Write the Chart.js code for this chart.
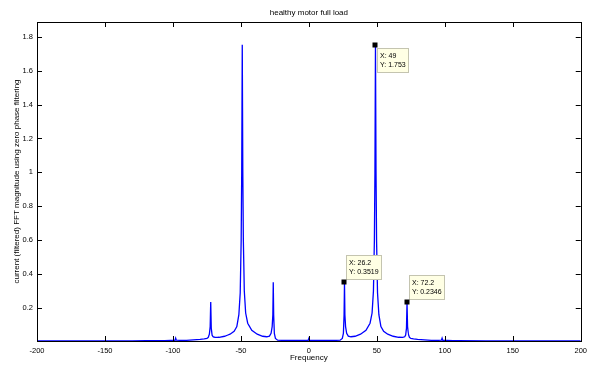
<!DOCTYPE html>
<html>
<head>
<meta charset="utf-8">
<script src="https://cdn.jsdelivr.net/npm/chart.js@4"></script>
<style>
  html, body { margin: 0; padding: 0; background: #fff; }
  #wrap { width: 592px; height: 367px; }
</style>
</head>
<body>
<div id="wrap"><canvas id="fftChart" width="592" height="367"></canvas></div>
<script>
// Spectrum (frequency in Hz, magnitude), one line per region
const freq = [
  -200, -170, -150, -130, -110, -102, -98.5, -98, -97.5, -95, -90, -85, -80, -77, -75,
  -74, -73.2, -72.6, -72.2, -71.8, -71.2, -70.5, -69,
  -66, -62, -58, -55, -53, -51.5, -50.5, -49.8, -49.4, -49, -48.6, -48.2, -47.5, -46.5, -45, -42, -38, -34, -31,
  -29, -27.8, -27, -26.5, -26.2, -25.9, -25.4, -24.6, -23, -18,
  -10, -3, -0.5, 0, 0.5, 3, 10, 18,
  23, 24.6, 25.4, 25.9, 26.2, 26.5, 27, 27.8, 29,
  31, 34, 38, 42, 45, 46.5, 47.5, 48.2, 48.6, 49, 49.4, 49.8, 50.5, 51.5, 53, 55, 58, 62, 66,
  69, 70.5, 71.2, 71.8, 72.2, 72.6, 73.2, 74,
  75, 77, 80, 85, 90, 95, 97.5, 98, 98.5, 102, 110, 130, 150, 170, 200
];
const mag = [
  0.006, 0.006, 0.006, 0.006, 0.007, 0.008, 0.009, 0.022, 0.01, 0.009, 0.009, 0.012, 0.015, 0.018, 0.021,
  0.026, 0.045, 0.09, 0.235, 0.08, 0.04, 0.03, 0.026,
  0.027, 0.033, 0.045, 0.062, 0.09, 0.16, 0.29, 0.6, 1.0, 1.753, 1.0, 0.6, 0.3, 0.17, 0.11, 0.068, 0.045, 0.033, 0.03,
  0.034, 0.05, 0.09, 0.16, 0.352, 0.16, 0.05, 0.02, 0.01, 0.008,
  0.008, 0.008, 0.009, 0.02, 0.009, 0.008, 0.008, 0.008,
  0.01, 0.02, 0.05, 0.16, 0.3519, 0.16, 0.09, 0.05, 0.034,
  0.03, 0.033, 0.045, 0.068, 0.11, 0.17, 0.3, 0.6, 1.0, 1.753, 1.0, 0.6, 0.29, 0.16, 0.09, 0.062, 0.045, 0.033, 0.027,
  0.026, 0.03, 0.04, 0.08, 0.2346, 0.09, 0.045, 0.026,
  0.021, 0.018, 0.015, 0.012, 0.009, 0.009, 0.01, 0.022, 0.009, 0.008, 0.007, 0.006, 0.006, 0.006, 0.006
];

const xTickVals = [-200, -150, -100, -50, 0, 50, 100, 150, 200];
const yTickVals = [0.2, 0.4, 0.6, 0.8, 1, 1.2, 1.4, 1.6, 1.8];

// Data tips shown on the figure
const tipX = [49, 26.2, 72.2];
const tipY = [1.753, 0.3519, 0.2346];
const tipLabelX = ['49', '26.2', '72.2'];
const tipLabelY = ['1.753', '0.3519', '0.2346'];

const titleText = 'healthy motor full load';
const xTitle = 'Frequency';
const yTitle = 'current (filtered) FFT magnitude using zero phase filtering';

const FONT = '"Liberation Sans", Arial, sans-serif';

// MATLAB-like frame: box, inward ticks, titles and data tips
const matlabFrame = {
  id: 'matlabFrame',
  afterDatasetsDraw(chart) {
    const { ctx, chartArea: a, scales } = chart;
    const xs = scales.x, ys = scales.y;
    ctx.save();

    // box
    ctx.strokeStyle = '#000';
    ctx.lineWidth = 1;
    ctx.strokeRect(Math.round(a.left) + 0.5, Math.round(a.top) + 0.5,
      Math.round(a.right - a.left), Math.round(a.bottom - a.top));

    // inward ticks
    ctx.beginPath();
    const tl = 5;
    xs.ticks.forEach(t => {
      const px = Math.round(xs.getPixelForValue(t.value)) + 0.5;
      ctx.moveTo(px, a.bottom); ctx.lineTo(px, a.bottom - tl);
      ctx.moveTo(px, a.top); ctx.lineTo(px, a.top + tl);
    });
    ys.ticks.forEach(t => {
      const py = Math.round(ys.getPixelForValue(t.value)) + 0.5;
      ctx.moveTo(a.left, py); ctx.lineTo(a.left + tl, py);
      ctx.moveTo(a.right, py); ctx.lineTo(a.right - tl, py);
    });
    ctx.stroke();

    // titles
    ctx.fillStyle = '#000';
    ctx.font = '8px ' + FONT;
    ctx.textAlign = 'center';
    ctx.textBaseline = 'middle';
    const cx = (a.left + a.right) / 2;
    ctx.fillText(titleText, cx, 13);
    ctx.fillText(xTitle, cx, 358);
    ctx.save();
    ctx.translate(17, (a.top + a.bottom) / 2);
    ctx.rotate(-Math.PI / 2);
    ctx.fillText(yTitle, 0, 0);
    ctx.restore();

    // data tips
    ctx.font = '7px ' + FONT;
    ctx.textAlign = 'left';
    tipX.forEach((x, i) => {
      const mx = xs.getPixelForValue(x);
      const my = ys.getPixelForValue(tipY[i]);
      const l1 = 'X: ' + tipLabelX[i];
      const l2 = 'Y: ' + tipLabelY[i];
      const w = Math.round(Math.max(ctx.measureText(l1).width, ctx.measureText(l2).width) + 5);
      const h = 24;
      const bx = Math.round(mx + 1.5) + 0.5;
      const by = Math.round(i === 0 ? my + 3 : my - 27) + 0.5;
      ctx.fillStyle = '#ffffe4';
      ctx.strokeStyle = '#c4c4b0';
      ctx.fillRect(bx, by, w, h);
      ctx.strokeRect(bx, by, w, h);
      ctx.fillStyle = '#000';
      ctx.fillText(l1, bx + 2.5, by + 8);
      ctx.fillText(l2, bx + 2.5, by + 17);
      ctx.fillRect(Math.round(mx) - 2.5, Math.round(my) - 2.5, 5, 5);
    });

    ctx.restore();
  }
};

new Chart(document.getElementById('fftChart'), {
  type: 'scatter',
  data: {
    datasets: [{
      data: freq.map((f, i) => ({ x: f, y: mag[i] })),
      showLine: true,
      borderColor: '#0000ff',
      borderWidth: 1.3,
      pointRadius: 0,
      tension: 0.000001 // avoids the pixel-column fast path, keeps straight segments
    }]
  },
  options: {
    responsive: false,
    animation: false,
    layout: { padding: { top: 22, right: 10, left: 0, bottom: 0 } },
    plugins: {
      legend: { display: false },
      tooltip: { enabled: false },
      title: { display: false }
    },
    scales: {
      x: {
        type: 'linear',
        min: -200,
        max: 200,
        afterBuildTicks: s => { s.ticks = xTickVals.map(v => ({ value: v })); },
        afterFit: s => { s.height = 26; },
        grid: { display: false, drawTicks: false },
        border: { display: false },
        ticks: {
          padding: 5,
          color: '#000',
          font: { family: FONT, size: 7.5 },
          maxRotation: 0,
          callback: v => String(v)
        }
      },
      y: {
        type: 'linear',
        min: 0.005,
        max: 1.887,
        afterBuildTicks: s => { s.ticks = yTickVals.map(v => ({ value: v })); },
        afterFit: s => { s.width = 37; },
        grid: { display: false, drawTicks: false },
        border: { display: false },
        ticks: {
          padding: 4,
          color: '#000',
          font: { family: FONT, size: 7.5 },
          callback: v => String(+v.toFixed(1))
        }
      }
    }
  },
  plugins: [matlabFrame]
});
</script>
</body>
</html>
